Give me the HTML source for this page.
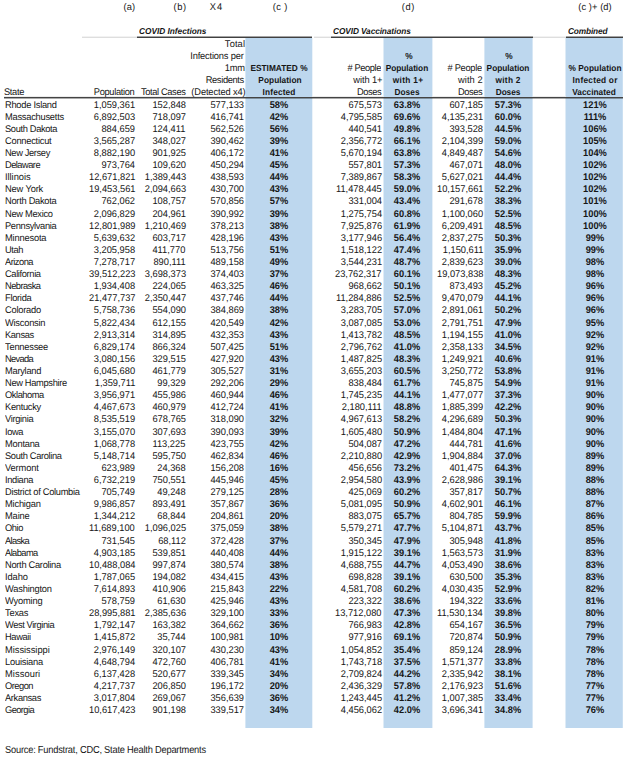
<!DOCTYPE html>
<html><head><meta charset="utf-8"><title>COVID Infections and Vaccinations by State</title>
<style>
html,body{margin:0;padding:0;background:#fff;}
body{text-rendering:geometricPrecision;width:624px;height:762px;position:relative;overflow:hidden;font-family:"Liberation Sans",Arial,sans-serif;font-size:9.7px;color:#161616;}
body>div.r{position:absolute;}
#t{position:absolute;left:0;top:0;width:624px;height:762px;}
#t>div{position:absolute;white-space:nowrap;line-height:10.0px;height:10.0px;}
.b{font-weight:bold;}
.i{font-style:italic;}
</style></head><body>
<div class="r" style="left:246px;top:38px;width:66px;height:690px;background:#bdd7ee"></div>
<div class="r" style="left:245px;top:38px;width:1px;height:690px;background:#d7e7f5"></div>
<div class="r" style="left:312px;top:38px;width:1px;height:690px;background:#ebf3fa"></div>
<div class="r" style="left:384px;top:38px;width:48px;height:690px;background:#bdd7ee"></div>
<div class="r" style="left:383px;top:38px;width:1px;height:690px;background:#deebf6"></div>
<div class="r" style="left:432px;top:38px;width:1px;height:690px;background:#e5eff8"></div>
<div class="r" style="left:485px;top:38px;width:47px;height:690px;background:#bdd7ee"></div>
<div class="r" style="left:484px;top:38px;width:1px;height:690px;background:#d7e7f5"></div>
<div class="r" style="left:532px;top:38px;width:1px;height:690px;background:#d7e7f5"></div>
<div class="r" style="left:566px;top:38px;width:56px;height:690px;background:#bdd7ee"></div>
<div class="r" style="left:565px;top:38px;width:1px;height:690px;background:#deebf6"></div>
<div class="r" style="left:622px;top:38px;width:1px;height:690px;background:#cadff1"></div>
<div class="r" style="left:137px;top:36px;width:175px;height:1px;background:#a4a4a4"></div>
<div class="r" style="left:137px;top:37px;width:175px;height:1px;background:#404040"></div>
<div class="r" style="left:331px;top:36px;width:202px;height:1px;background:#a4a4a4"></div>
<div class="r" style="left:331px;top:37px;width:202px;height:1px;background:#404040"></div>
<div class="r" style="left:566px;top:36px;width:57px;height:1px;background:#a4a4a4"></div>
<div class="r" style="left:566px;top:37px;width:57px;height:1px;background:#404040"></div>
<div class="r" style="left:82px;top:37px;width:55px;height:1px;background:#dedede"></div>
<div class="r" style="left:82px;top:36px;width:55px;height:1px;background:#f2f2f2"></div>
<div class="r" style="left:314px;top:37px;width:17px;height:1px;background:#dedede"></div>
<div class="r" style="left:314px;top:36px;width:17px;height:1px;background:#f2f2f2"></div>
<div class="r" style="left:533px;top:37px;width:33px;height:1px;background:#dedede"></div>
<div class="r" style="left:533px;top:36px;width:33px;height:1px;background:#f2f2f2"></div>
<div class="r" style="left:4px;top:96px;width:241px;height:1px;background:#ececec"></div>
<div class="r" style="left:312px;top:96px;width:71px;height:1px;background:#ececec"></div>
<div class="r" style="left:432px;top:96px;width:52px;height:1px;background:#ececec"></div>
<div class="r" style="left:533px;top:96px;width:33px;height:1px;background:#ececec"></div>
<div class="r" style="left:4px;top:97px;width:619px;height:1px;background:#444444"></div>
<div class="r" style="left:4px;top:98px;width:619px;height:1px;background:rgba(0,0,0,0.33)"></div>
<div id="t">
<div class="ra" style="right:488.24px;top:3.00px;letter-spacing:0.142px;transform:scaleX(0.9588);transform-origin:100% 0">(a)</div>
<div class="ra" style="right:437.30px;top:3.00px;letter-spacing:0.601px;transform:scaleX(0.9588);transform-origin:100% 0">(b)</div>
<div style="left:155.61px;width:120px;text-align:center;top:3.00px;letter-spacing:-0.747px;transform:scaleX(0.9588);transform-origin:50% 0"><span style="margin-right:0.747px">X 4</span></div>
<div style="left:219.67px;width:120px;text-align:center;top:3.00px;letter-spacing:0.370px;transform:scaleX(0.9588);transform-origin:50% 0"><span style="margin-right:-0.370px">(c )</span></div>
<div style="left:347.78px;width:120px;text-align:center;top:3.00px;letter-spacing:0.598px;transform:scaleX(0.9588);transform-origin:50% 0"><span style="margin-right:-0.598px">(d)</span></div>
<div style="left:534.59px;width:120px;text-align:center;top:3.00px;letter-spacing:0.087px;transform:scaleX(0.9588);transform-origin:50% 0"><span style="margin-right:-0.087px">(c )+ (d)</span></div>
<div class="b i" style="left:138.77px;top:26.00px;letter-spacing:-0.019px;font-size:8.6px;transform:scaleX(0.9651);transform-origin:0 0">COVID Infections</div>
<div class="b i" style="left:333.42px;top:26.00px;letter-spacing:-0.101px;font-size:8.6px;transform:scaleX(0.9651);transform-origin:0 0">COVID Vaccinations</div>
<div class="b i" style="left:568.12px;top:26.00px;letter-spacing:-0.151px;font-size:8.6px;transform:scaleX(0.9651);transform-origin:0 0">Combined</div>
<div class="ra" style="right:378.81px;top:39.94px;letter-spacing:0.124px;transform:scaleX(0.9588);transform-origin:100% 0">Total</div>
<div class="ra" style="right:380.20px;top:52.05px;letter-spacing:-0.186px;transform:scaleX(0.9588);transform-origin:100% 0">Infections per</div>
<div class="ra" style="right:379.23px;top:64.16px;letter-spacing:-0.223px;transform:scaleX(0.9588);transform-origin:100% 0">1mm</div>
<div class="ra" style="right:380.00px;top:76.27px;letter-spacing:-0.351px;transform:scaleX(0.9588);transform-origin:100% 0">Residents</div>
<div class="ra" style="right:378.88px;top:88.39px;letter-spacing:-0.131px;transform:scaleX(0.9588);transform-origin:100% 0">(Detected x4)</div>
<div class="b" style="left:219.22px;width:120px;text-align:center;top:63.16px;letter-spacing:0.003px;font-size:8.8px;transform:scaleX(0.9432);transform-origin:50% 0"><span style="margin-right:-0.003px">ESTIMATED %</span></div>
<div class="b" style="left:219.78px;width:120px;text-align:center;top:75.27px;letter-spacing:0.051px;font-size:8.8px;transform:scaleX(0.9432);transform-origin:50% 0"><span style="margin-right:-0.051px">Population</span></div>
<div class="b" style="left:218.50px;width:120px;text-align:center;top:87.39px;letter-spacing:0.157px;font-size:8.8px;transform:scaleX(0.9432);transform-origin:50% 0"><span style="margin-right:-0.157px">Infected</span></div>
<div class="ra" style="right:243.17px;top:64.16px;letter-spacing:-0.415px;transform:scaleX(0.9588);transform-origin:100% 0"># People</div>
<div class="ra" style="right:241.51px;top:76.27px;letter-spacing:-0.077px;transform:scaleX(0.9588);transform-origin:100% 0">with 1+</div>
<div class="ra" style="right:242.74px;top:88.39px;letter-spacing:-0.476px;transform:scaleX(0.9588);transform-origin:100% 0">Doses</div>
<div class="b" style="left:348.58px;width:120px;text-align:center;top:51.05px;font-size:8.8px;transform:scaleX(0.9432);transform-origin:50% 0">%</div>
<div class="b" style="left:347.01px;width:120px;text-align:center;top:63.16px;letter-spacing:-0.053px;font-size:8.8px;transform:scaleX(0.9432);transform-origin:50% 0"><span style="margin-right:0.053px">Population</span></div>
<div class="b" style="left:347.80px;width:120px;text-align:center;top:75.27px;letter-spacing:0.349px;font-size:8.8px;transform:scaleX(0.9432);transform-origin:50% 0"><span style="margin-right:-0.349px">with 1+</span></div>
<div class="b" style="left:347.49px;width:120px;text-align:center;top:87.39px;letter-spacing:0.066px;font-size:8.8px;transform:scaleX(0.9432);transform-origin:50% 0"><span style="margin-right:-0.066px">Doses</span></div>
<div class="ra" style="right:142.20px;top:64.16px;letter-spacing:-0.297px;transform:scaleX(0.9588);transform-origin:100% 0"># People</div>
<div class="ra" style="right:141.17px;top:76.27px;letter-spacing:0.063px;transform:scaleX(0.9588);transform-origin:100% 0">with 2</div>
<div class="ra" style="right:141.64px;top:88.39px;letter-spacing:-0.464px;transform:scaleX(0.9588);transform-origin:100% 0">Doses</div>
<div class="b" style="left:448.75px;width:120px;text-align:center;top:51.05px;font-size:8.8px;transform:scaleX(0.9432);transform-origin:50% 0">%</div>
<div class="b" style="left:448.10px;width:120px;text-align:center;top:63.16px;letter-spacing:-0.009px;font-size:8.8px;transform:scaleX(0.9432);transform-origin:50% 0"><span style="margin-right:0.009px">Population</span></div>
<div class="b" style="left:448.22px;width:120px;text-align:center;top:75.27px;letter-spacing:0.270px;font-size:8.8px;transform:scaleX(0.9432);transform-origin:50% 0"><span style="margin-right:-0.270px">with 2</span></div>
<div class="b" style="left:447.92px;width:120px;text-align:center;top:87.39px;letter-spacing:-0.091px;font-size:8.8px;transform:scaleX(0.9432);transform-origin:50% 0"><span style="margin-right:0.091px">Doses</span></div>
<div class="b" style="left:534.70px;width:120px;text-align:center;top:63.16px;letter-spacing:0.050px;font-size:8.8px;transform:scaleX(0.9432);transform-origin:50% 0"><span style="margin-right:-0.050px">% Population</span></div>
<div class="b" style="left:535.30px;width:120px;text-align:center;top:75.27px;letter-spacing:0.256px;font-size:8.8px;transform:scaleX(0.9432);transform-origin:50% 0"><span style="margin-right:-0.256px">Infected or</span></div>
<div class="b" style="left:534.38px;width:120px;text-align:center;top:87.39px;letter-spacing:0.010px;font-size:8.8px;transform:scaleX(0.9432);transform-origin:50% 0"><span style="margin-right:-0.010px">Vaccinated</span></div>
<div style="left:4.34px;top:88.39px;letter-spacing:-0.349px;transform:scaleX(0.9588);transform-origin:0 0">State</div>
<div class="ra" style="right:489.35px;top:88.39px;letter-spacing:-0.333px;transform:scaleX(0.9588);transform-origin:100% 0">Population</div>
<div class="ra" style="right:438.68px;top:88.39px;letter-spacing:-0.374px;transform:scaleX(0.9588);transform-origin:100% 0">Total Cases</div>
<div style="left:5.00px;top:100.50px;letter-spacing:-0.265px;transform:scaleX(0.9588);transform-origin:0 0">Rhode Island</div>
<div class="ra" style="right:488.80px;top:100.50px;transform:scaleX(0.9588);transform-origin:100% 0">1,059,361</div>
<div class="ra" style="right:438.40px;top:100.50px;transform:scaleX(0.9588);transform-origin:100% 0">152,848</div>
<div class="ra" style="right:379.80px;top:100.50px;transform:scaleX(0.9588);transform-origin:100% 0">577,133</div>
<div class="b" style="left:219.40px;width:120px;text-align:center;top:100.50px;transform:scaleX(0.9588);transform-origin:50% 0">58%</div>
<div class="ra" style="right:242.40px;top:100.50px;transform:scaleX(0.9588);transform-origin:100% 0">675,573</div>
<div class="b" style="left:347.40px;width:120px;text-align:center;top:100.50px;transform:scaleX(0.9588);transform-origin:50% 0">63.8%</div>
<div class="ra" style="right:140.80px;top:100.50px;transform:scaleX(0.9588);transform-origin:100% 0">607,185</div>
<div class="b" style="left:448.40px;width:120px;text-align:center;top:100.50px;transform:scaleX(0.9588);transform-origin:50% 0">57.3%</div>
<div class="b" style="left:535.00px;width:120px;text-align:center;top:100.50px;transform:scaleX(0.9588);transform-origin:50% 0">121%</div>
<div style="left:5.00px;top:112.61px;letter-spacing:-0.244px;transform:scaleX(0.9588);transform-origin:0 0">Massachusetts</div>
<div class="ra" style="right:488.80px;top:112.61px;transform:scaleX(0.9588);transform-origin:100% 0">6,892,503</div>
<div class="ra" style="right:438.40px;top:112.61px;transform:scaleX(0.9588);transform-origin:100% 0">718,097</div>
<div class="ra" style="right:379.80px;top:112.61px;transform:scaleX(0.9588);transform-origin:100% 0">416,741</div>
<div class="b" style="left:219.40px;width:120px;text-align:center;top:112.61px;transform:scaleX(0.9588);transform-origin:50% 0">42%</div>
<div class="ra" style="right:242.40px;top:112.61px;transform:scaleX(0.9588);transform-origin:100% 0">4,795,585</div>
<div class="b" style="left:347.40px;width:120px;text-align:center;top:112.61px;transform:scaleX(0.9588);transform-origin:50% 0">69.6%</div>
<div class="ra" style="right:140.80px;top:112.61px;transform:scaleX(0.9588);transform-origin:100% 0">4,135,231</div>
<div class="b" style="left:448.40px;width:120px;text-align:center;top:112.61px;transform:scaleX(0.9588);transform-origin:50% 0">60.0%</div>
<div class="b" style="left:535.00px;width:120px;text-align:center;top:112.61px;transform:scaleX(0.9588);transform-origin:50% 0">111%</div>
<div style="left:5.00px;top:124.73px;letter-spacing:-0.358px;transform:scaleX(0.9588);transform-origin:0 0">South Dakota</div>
<div class="ra" style="right:488.80px;top:124.73px;transform:scaleX(0.9588);transform-origin:100% 0">884,659</div>
<div class="ra" style="right:438.40px;top:124.73px;transform:scaleX(0.9588);transform-origin:100% 0">124,411</div>
<div class="ra" style="right:379.80px;top:124.73px;transform:scaleX(0.9588);transform-origin:100% 0">562,526</div>
<div class="b" style="left:219.40px;width:120px;text-align:center;top:124.73px;transform:scaleX(0.9588);transform-origin:50% 0">56%</div>
<div class="ra" style="right:242.40px;top:124.73px;transform:scaleX(0.9588);transform-origin:100% 0">440,541</div>
<div class="b" style="left:347.40px;width:120px;text-align:center;top:124.73px;transform:scaleX(0.9588);transform-origin:50% 0">49.8%</div>
<div class="ra" style="right:140.80px;top:124.73px;transform:scaleX(0.9588);transform-origin:100% 0">393,528</div>
<div class="b" style="left:448.40px;width:120px;text-align:center;top:124.73px;transform:scaleX(0.9588);transform-origin:50% 0">44.5%</div>
<div class="b" style="left:535.00px;width:120px;text-align:center;top:124.73px;transform:scaleX(0.9588);transform-origin:50% 0">106%</div>
<div style="left:5.00px;top:136.84px;letter-spacing:-0.251px;transform:scaleX(0.9588);transform-origin:0 0">Connecticut</div>
<div class="ra" style="right:488.80px;top:136.84px;transform:scaleX(0.9588);transform-origin:100% 0">3,565,287</div>
<div class="ra" style="right:438.40px;top:136.84px;transform:scaleX(0.9588);transform-origin:100% 0">348,027</div>
<div class="ra" style="right:379.80px;top:136.84px;transform:scaleX(0.9588);transform-origin:100% 0">390,462</div>
<div class="b" style="left:219.40px;width:120px;text-align:center;top:136.84px;transform:scaleX(0.9588);transform-origin:50% 0">39%</div>
<div class="ra" style="right:242.40px;top:136.84px;transform:scaleX(0.9588);transform-origin:100% 0">2,356,772</div>
<div class="b" style="left:347.40px;width:120px;text-align:center;top:136.84px;transform:scaleX(0.9588);transform-origin:50% 0">66.1%</div>
<div class="ra" style="right:140.80px;top:136.84px;transform:scaleX(0.9588);transform-origin:100% 0">2,104,399</div>
<div class="b" style="left:448.40px;width:120px;text-align:center;top:136.84px;transform:scaleX(0.9588);transform-origin:50% 0">59.0%</div>
<div class="b" style="left:535.00px;width:120px;text-align:center;top:136.84px;transform:scaleX(0.9588);transform-origin:50% 0">105%</div>
<div style="left:5.00px;top:148.95px;letter-spacing:-0.374px;transform:scaleX(0.9588);transform-origin:0 0">New Jersey</div>
<div class="ra" style="right:488.80px;top:148.95px;transform:scaleX(0.9588);transform-origin:100% 0">8,882,190</div>
<div class="ra" style="right:438.40px;top:148.95px;transform:scaleX(0.9588);transform-origin:100% 0">901,925</div>
<div class="ra" style="right:379.80px;top:148.95px;transform:scaleX(0.9588);transform-origin:100% 0">406,172</div>
<div class="b" style="left:219.40px;width:120px;text-align:center;top:148.95px;transform:scaleX(0.9588);transform-origin:50% 0">41%</div>
<div class="ra" style="right:242.40px;top:148.95px;transform:scaleX(0.9588);transform-origin:100% 0">5,670,194</div>
<div class="b" style="left:347.40px;width:120px;text-align:center;top:148.95px;transform:scaleX(0.9588);transform-origin:50% 0">63.8%</div>
<div class="ra" style="right:140.80px;top:148.95px;transform:scaleX(0.9588);transform-origin:100% 0">4,849,487</div>
<div class="b" style="left:448.40px;width:120px;text-align:center;top:148.95px;transform:scaleX(0.9588);transform-origin:50% 0">54.6%</div>
<div class="b" style="left:535.00px;width:120px;text-align:center;top:148.95px;transform:scaleX(0.9588);transform-origin:50% 0">104%</div>
<div style="left:5.00px;top:161.06px;letter-spacing:-0.546px;transform:scaleX(0.9588);transform-origin:0 0">Delaware</div>
<div class="ra" style="right:488.80px;top:161.06px;transform:scaleX(0.9588);transform-origin:100% 0">973,764</div>
<div class="ra" style="right:438.40px;top:161.06px;transform:scaleX(0.9588);transform-origin:100% 0">109,620</div>
<div class="ra" style="right:379.80px;top:161.06px;transform:scaleX(0.9588);transform-origin:100% 0">450,294</div>
<div class="b" style="left:219.40px;width:120px;text-align:center;top:161.06px;transform:scaleX(0.9588);transform-origin:50% 0">45%</div>
<div class="ra" style="right:242.40px;top:161.06px;transform:scaleX(0.9588);transform-origin:100% 0">557,801</div>
<div class="b" style="left:347.40px;width:120px;text-align:center;top:161.06px;transform:scaleX(0.9588);transform-origin:50% 0">57.3%</div>
<div class="ra" style="right:140.80px;top:161.06px;transform:scaleX(0.9588);transform-origin:100% 0">467,071</div>
<div class="b" style="left:448.40px;width:120px;text-align:center;top:161.06px;transform:scaleX(0.9588);transform-origin:50% 0">48.0%</div>
<div class="b" style="left:535.00px;width:120px;text-align:center;top:161.06px;transform:scaleX(0.9588);transform-origin:50% 0">102%</div>
<div style="left:5.00px;top:173.18px;letter-spacing:-0.035px;transform:scaleX(0.9588);transform-origin:0 0">Illinois</div>
<div class="ra" style="right:488.80px;top:173.18px;transform:scaleX(0.9588);transform-origin:100% 0">12,671,821</div>
<div class="ra" style="right:438.40px;top:173.18px;transform:scaleX(0.9588);transform-origin:100% 0">1,389,443</div>
<div class="ra" style="right:379.80px;top:173.18px;transform:scaleX(0.9588);transform-origin:100% 0">438,593</div>
<div class="b" style="left:219.40px;width:120px;text-align:center;top:173.18px;transform:scaleX(0.9588);transform-origin:50% 0">44%</div>
<div class="ra" style="right:242.40px;top:173.18px;transform:scaleX(0.9588);transform-origin:100% 0">7,389,867</div>
<div class="b" style="left:347.40px;width:120px;text-align:center;top:173.18px;transform:scaleX(0.9588);transform-origin:50% 0">58.3%</div>
<div class="ra" style="right:140.80px;top:173.18px;transform:scaleX(0.9588);transform-origin:100% 0">5,627,021</div>
<div class="b" style="left:448.40px;width:120px;text-align:center;top:173.18px;transform:scaleX(0.9588);transform-origin:50% 0">44.4%</div>
<div class="b" style="left:535.00px;width:120px;text-align:center;top:173.18px;transform:scaleX(0.9588);transform-origin:50% 0">102%</div>
<div style="left:5.00px;top:185.29px;letter-spacing:-0.148px;transform:scaleX(0.9588);transform-origin:0 0">New York</div>
<div class="ra" style="right:488.80px;top:185.29px;transform:scaleX(0.9588);transform-origin:100% 0">19,453,561</div>
<div class="ra" style="right:438.40px;top:185.29px;transform:scaleX(0.9588);transform-origin:100% 0">2,094,663</div>
<div class="ra" style="right:379.80px;top:185.29px;transform:scaleX(0.9588);transform-origin:100% 0">430,700</div>
<div class="b" style="left:219.40px;width:120px;text-align:center;top:185.29px;transform:scaleX(0.9588);transform-origin:50% 0">43%</div>
<div class="ra" style="right:242.40px;top:185.29px;transform:scaleX(0.9588);transform-origin:100% 0">11,478,445</div>
<div class="b" style="left:347.40px;width:120px;text-align:center;top:185.29px;transform:scaleX(0.9588);transform-origin:50% 0">59.0%</div>
<div class="ra" style="right:140.80px;top:185.29px;transform:scaleX(0.9588);transform-origin:100% 0">10,157,661</div>
<div class="b" style="left:448.40px;width:120px;text-align:center;top:185.29px;transform:scaleX(0.9588);transform-origin:50% 0">52.2%</div>
<div class="b" style="left:535.00px;width:120px;text-align:center;top:185.29px;transform:scaleX(0.9588);transform-origin:50% 0">102%</div>
<div style="left:5.00px;top:197.40px;letter-spacing:-0.290px;transform:scaleX(0.9588);transform-origin:0 0">North Dakota</div>
<div class="ra" style="right:488.80px;top:197.40px;transform:scaleX(0.9588);transform-origin:100% 0">762,062</div>
<div class="ra" style="right:438.40px;top:197.40px;transform:scaleX(0.9588);transform-origin:100% 0">108,757</div>
<div class="ra" style="right:379.80px;top:197.40px;transform:scaleX(0.9588);transform-origin:100% 0">570,856</div>
<div class="b" style="left:219.40px;width:120px;text-align:center;top:197.40px;transform:scaleX(0.9588);transform-origin:50% 0">57%</div>
<div class="ra" style="right:242.40px;top:197.40px;transform:scaleX(0.9588);transform-origin:100% 0">331,004</div>
<div class="b" style="left:347.40px;width:120px;text-align:center;top:197.40px;transform:scaleX(0.9588);transform-origin:50% 0">43.4%</div>
<div class="ra" style="right:140.80px;top:197.40px;transform:scaleX(0.9588);transform-origin:100% 0">291,678</div>
<div class="b" style="left:448.40px;width:120px;text-align:center;top:197.40px;transform:scaleX(0.9588);transform-origin:50% 0">38.3%</div>
<div class="b" style="left:535.00px;width:120px;text-align:center;top:197.40px;transform:scaleX(0.9588);transform-origin:50% 0">101%</div>
<div style="left:5.00px;top:209.52px;letter-spacing:-0.307px;transform:scaleX(0.9588);transform-origin:0 0">New Mexico</div>
<div class="ra" style="right:488.80px;top:209.52px;transform:scaleX(0.9588);transform-origin:100% 0">2,096,829</div>
<div class="ra" style="right:438.40px;top:209.52px;transform:scaleX(0.9588);transform-origin:100% 0">204,961</div>
<div class="ra" style="right:379.80px;top:209.52px;transform:scaleX(0.9588);transform-origin:100% 0">390,992</div>
<div class="b" style="left:219.40px;width:120px;text-align:center;top:209.52px;transform:scaleX(0.9588);transform-origin:50% 0">39%</div>
<div class="ra" style="right:242.40px;top:209.52px;transform:scaleX(0.9588);transform-origin:100% 0">1,275,754</div>
<div class="b" style="left:347.40px;width:120px;text-align:center;top:209.52px;transform:scaleX(0.9588);transform-origin:50% 0">60.8%</div>
<div class="ra" style="right:140.80px;top:209.52px;transform:scaleX(0.9588);transform-origin:100% 0">1,100,060</div>
<div class="b" style="left:448.40px;width:120px;text-align:center;top:209.52px;transform:scaleX(0.9588);transform-origin:50% 0">52.5%</div>
<div class="b" style="left:535.00px;width:120px;text-align:center;top:209.52px;transform:scaleX(0.9588);transform-origin:50% 0">100%</div>
<div style="left:5.00px;top:221.63px;letter-spacing:-0.335px;transform:scaleX(0.9588);transform-origin:0 0">Pennsylvania</div>
<div class="ra" style="right:488.80px;top:221.63px;transform:scaleX(0.9588);transform-origin:100% 0">12,801,989</div>
<div class="ra" style="right:438.40px;top:221.63px;transform:scaleX(0.9588);transform-origin:100% 0">1,210,469</div>
<div class="ra" style="right:379.80px;top:221.63px;transform:scaleX(0.9588);transform-origin:100% 0">378,213</div>
<div class="b" style="left:219.40px;width:120px;text-align:center;top:221.63px;transform:scaleX(0.9588);transform-origin:50% 0">38%</div>
<div class="ra" style="right:242.40px;top:221.63px;transform:scaleX(0.9588);transform-origin:100% 0">7,925,876</div>
<div class="b" style="left:347.40px;width:120px;text-align:center;top:221.63px;transform:scaleX(0.9588);transform-origin:50% 0">61.9%</div>
<div class="ra" style="right:140.80px;top:221.63px;transform:scaleX(0.9588);transform-origin:100% 0">6,209,491</div>
<div class="b" style="left:448.40px;width:120px;text-align:center;top:221.63px;transform:scaleX(0.9588);transform-origin:50% 0">48.5%</div>
<div class="b" style="left:535.00px;width:120px;text-align:center;top:221.63px;transform:scaleX(0.9588);transform-origin:50% 0">100%</div>
<div style="left:5.00px;top:233.74px;letter-spacing:-0.181px;transform:scaleX(0.9588);transform-origin:0 0">Minnesota</div>
<div class="ra" style="right:488.80px;top:233.74px;transform:scaleX(0.9588);transform-origin:100% 0">5,639,632</div>
<div class="ra" style="right:438.40px;top:233.74px;transform:scaleX(0.9588);transform-origin:100% 0">603,717</div>
<div class="ra" style="right:379.80px;top:233.74px;transform:scaleX(0.9588);transform-origin:100% 0">428,196</div>
<div class="b" style="left:219.40px;width:120px;text-align:center;top:233.74px;transform:scaleX(0.9588);transform-origin:50% 0">43%</div>
<div class="ra" style="right:242.40px;top:233.74px;transform:scaleX(0.9588);transform-origin:100% 0">3,177,946</div>
<div class="b" style="left:347.40px;width:120px;text-align:center;top:233.74px;transform:scaleX(0.9588);transform-origin:50% 0">56.4%</div>
<div class="ra" style="right:140.80px;top:233.74px;transform:scaleX(0.9588);transform-origin:100% 0">2,837,275</div>
<div class="b" style="left:448.40px;width:120px;text-align:center;top:233.74px;transform:scaleX(0.9588);transform-origin:50% 0">50.3%</div>
<div class="b" style="left:535.00px;width:120px;text-align:center;top:233.74px;transform:scaleX(0.9588);transform-origin:50% 0">99%</div>
<div style="left:5.00px;top:245.86px;letter-spacing:-0.383px;transform:scaleX(0.9588);transform-origin:0 0">Utah</div>
<div class="ra" style="right:488.80px;top:245.86px;transform:scaleX(0.9588);transform-origin:100% 0">3,205,958</div>
<div class="ra" style="right:438.40px;top:245.86px;transform:scaleX(0.9588);transform-origin:100% 0">411,770</div>
<div class="ra" style="right:379.80px;top:245.86px;transform:scaleX(0.9588);transform-origin:100% 0">513,756</div>
<div class="b" style="left:219.40px;width:120px;text-align:center;top:245.86px;transform:scaleX(0.9588);transform-origin:50% 0">51%</div>
<div class="ra" style="right:242.40px;top:245.86px;transform:scaleX(0.9588);transform-origin:100% 0">1,518,122</div>
<div class="b" style="left:347.40px;width:120px;text-align:center;top:245.86px;transform:scaleX(0.9588);transform-origin:50% 0">47.4%</div>
<div class="ra" style="right:140.80px;top:245.86px;transform:scaleX(0.9588);transform-origin:100% 0">1,150,611</div>
<div class="b" style="left:448.40px;width:120px;text-align:center;top:245.86px;transform:scaleX(0.9588);transform-origin:50% 0">35.9%</div>
<div class="b" style="left:535.00px;width:120px;text-align:center;top:245.86px;transform:scaleX(0.9588);transform-origin:50% 0">99%</div>
<div style="left:5.00px;top:257.97px;letter-spacing:-0.519px;transform:scaleX(0.9588);transform-origin:0 0">Arizona</div>
<div class="ra" style="right:488.80px;top:257.97px;transform:scaleX(0.9588);transform-origin:100% 0">7,278,717</div>
<div class="ra" style="right:438.40px;top:257.97px;transform:scaleX(0.9588);transform-origin:100% 0">890,111</div>
<div class="ra" style="right:379.80px;top:257.97px;transform:scaleX(0.9588);transform-origin:100% 0">489,158</div>
<div class="b" style="left:219.40px;width:120px;text-align:center;top:257.97px;transform:scaleX(0.9588);transform-origin:50% 0">49%</div>
<div class="ra" style="right:242.40px;top:257.97px;transform:scaleX(0.9588);transform-origin:100% 0">3,544,231</div>
<div class="b" style="left:347.40px;width:120px;text-align:center;top:257.97px;transform:scaleX(0.9588);transform-origin:50% 0">48.7%</div>
<div class="ra" style="right:140.80px;top:257.97px;transform:scaleX(0.9588);transform-origin:100% 0">2,839,623</div>
<div class="b" style="left:448.40px;width:120px;text-align:center;top:257.97px;transform:scaleX(0.9588);transform-origin:50% 0">39.0%</div>
<div class="b" style="left:535.00px;width:120px;text-align:center;top:257.97px;transform:scaleX(0.9588);transform-origin:50% 0">98%</div>
<div style="left:5.00px;top:270.08px;letter-spacing:-0.374px;transform:scaleX(0.9588);transform-origin:0 0">California</div>
<div class="ra" style="right:488.80px;top:270.08px;transform:scaleX(0.9588);transform-origin:100% 0">39,512,223</div>
<div class="ra" style="right:438.40px;top:270.08px;transform:scaleX(0.9588);transform-origin:100% 0">3,698,373</div>
<div class="ra" style="right:379.80px;top:270.08px;transform:scaleX(0.9588);transform-origin:100% 0">374,403</div>
<div class="b" style="left:219.40px;width:120px;text-align:center;top:270.08px;transform:scaleX(0.9588);transform-origin:50% 0">37%</div>
<div class="ra" style="right:242.40px;top:270.08px;transform:scaleX(0.9588);transform-origin:100% 0">23,762,317</div>
<div class="b" style="left:347.40px;width:120px;text-align:center;top:270.08px;transform:scaleX(0.9588);transform-origin:50% 0">60.1%</div>
<div class="ra" style="right:140.80px;top:270.08px;transform:scaleX(0.9588);transform-origin:100% 0">19,073,838</div>
<div class="b" style="left:448.40px;width:120px;text-align:center;top:270.08px;transform:scaleX(0.9588);transform-origin:50% 0">48.3%</div>
<div class="b" style="left:535.00px;width:120px;text-align:center;top:270.08px;transform:scaleX(0.9588);transform-origin:50% 0">98%</div>
<div style="left:5.00px;top:282.19px;letter-spacing:-0.560px;transform:scaleX(0.9588);transform-origin:0 0">Nebraska</div>
<div class="ra" style="right:488.80px;top:282.19px;transform:scaleX(0.9588);transform-origin:100% 0">1,934,408</div>
<div class="ra" style="right:438.40px;top:282.19px;transform:scaleX(0.9588);transform-origin:100% 0">224,065</div>
<div class="ra" style="right:379.80px;top:282.19px;transform:scaleX(0.9588);transform-origin:100% 0">463,325</div>
<div class="b" style="left:219.40px;width:120px;text-align:center;top:282.19px;transform:scaleX(0.9588);transform-origin:50% 0">46%</div>
<div class="ra" style="right:242.40px;top:282.19px;transform:scaleX(0.9588);transform-origin:100% 0">968,662</div>
<div class="b" style="left:347.40px;width:120px;text-align:center;top:282.19px;transform:scaleX(0.9588);transform-origin:50% 0">50.1%</div>
<div class="ra" style="right:140.80px;top:282.19px;transform:scaleX(0.9588);transform-origin:100% 0">873,493</div>
<div class="b" style="left:448.40px;width:120px;text-align:center;top:282.19px;transform:scaleX(0.9588);transform-origin:50% 0">45.2%</div>
<div class="b" style="left:535.00px;width:120px;text-align:center;top:282.19px;transform:scaleX(0.9588);transform-origin:50% 0">96%</div>
<div style="left:5.00px;top:294.31px;letter-spacing:-0.294px;transform:scaleX(0.9588);transform-origin:0 0">Florida</div>
<div class="ra" style="right:488.80px;top:294.31px;transform:scaleX(0.9588);transform-origin:100% 0">21,477,737</div>
<div class="ra" style="right:438.40px;top:294.31px;transform:scaleX(0.9588);transform-origin:100% 0">2,350,447</div>
<div class="ra" style="right:379.80px;top:294.31px;transform:scaleX(0.9588);transform-origin:100% 0">437,746</div>
<div class="b" style="left:219.40px;width:120px;text-align:center;top:294.31px;transform:scaleX(0.9588);transform-origin:50% 0">44%</div>
<div class="ra" style="right:242.40px;top:294.31px;transform:scaleX(0.9588);transform-origin:100% 0">11,284,886</div>
<div class="b" style="left:347.40px;width:120px;text-align:center;top:294.31px;transform:scaleX(0.9588);transform-origin:50% 0">52.5%</div>
<div class="ra" style="right:140.80px;top:294.31px;transform:scaleX(0.9588);transform-origin:100% 0">9,470,079</div>
<div class="b" style="left:448.40px;width:120px;text-align:center;top:294.31px;transform:scaleX(0.9588);transform-origin:50% 0">44.1%</div>
<div class="b" style="left:535.00px;width:120px;text-align:center;top:294.31px;transform:scaleX(0.9588);transform-origin:50% 0">96%</div>
<div style="left:5.00px;top:306.42px;letter-spacing:-0.228px;transform:scaleX(0.9588);transform-origin:0 0">Colorado</div>
<div class="ra" style="right:488.80px;top:306.42px;transform:scaleX(0.9588);transform-origin:100% 0">5,758,736</div>
<div class="ra" style="right:438.40px;top:306.42px;transform:scaleX(0.9588);transform-origin:100% 0">554,090</div>
<div class="ra" style="right:379.80px;top:306.42px;transform:scaleX(0.9588);transform-origin:100% 0">384,869</div>
<div class="b" style="left:219.40px;width:120px;text-align:center;top:306.42px;transform:scaleX(0.9588);transform-origin:50% 0">38%</div>
<div class="ra" style="right:242.40px;top:306.42px;transform:scaleX(0.9588);transform-origin:100% 0">3,283,705</div>
<div class="b" style="left:347.40px;width:120px;text-align:center;top:306.42px;transform:scaleX(0.9588);transform-origin:50% 0">57.0%</div>
<div class="ra" style="right:140.80px;top:306.42px;transform:scaleX(0.9588);transform-origin:100% 0">2,891,061</div>
<div class="b" style="left:448.40px;width:120px;text-align:center;top:306.42px;transform:scaleX(0.9588);transform-origin:50% 0">50.2%</div>
<div class="b" style="left:535.00px;width:120px;text-align:center;top:306.42px;transform:scaleX(0.9588);transform-origin:50% 0">96%</div>
<div style="left:5.00px;top:318.53px;letter-spacing:-0.239px;transform:scaleX(0.9588);transform-origin:0 0">Wisconsin</div>
<div class="ra" style="right:488.80px;top:318.53px;transform:scaleX(0.9588);transform-origin:100% 0">5,822,434</div>
<div class="ra" style="right:438.40px;top:318.53px;transform:scaleX(0.9588);transform-origin:100% 0">612,155</div>
<div class="ra" style="right:379.80px;top:318.53px;transform:scaleX(0.9588);transform-origin:100% 0">420,549</div>
<div class="b" style="left:219.40px;width:120px;text-align:center;top:318.53px;transform:scaleX(0.9588);transform-origin:50% 0">42%</div>
<div class="ra" style="right:242.40px;top:318.53px;transform:scaleX(0.9588);transform-origin:100% 0">3,087,085</div>
<div class="b" style="left:347.40px;width:120px;text-align:center;top:318.53px;transform:scaleX(0.9588);transform-origin:50% 0">53.0%</div>
<div class="ra" style="right:140.80px;top:318.53px;transform:scaleX(0.9588);transform-origin:100% 0">2,791,751</div>
<div class="b" style="left:448.40px;width:120px;text-align:center;top:318.53px;transform:scaleX(0.9588);transform-origin:50% 0">47.9%</div>
<div class="b" style="left:535.00px;width:120px;text-align:center;top:318.53px;transform:scaleX(0.9588);transform-origin:50% 0">95%</div>
<div style="left:5.00px;top:330.65px;letter-spacing:-0.399px;transform:scaleX(0.9588);transform-origin:0 0">Kansas</div>
<div class="ra" style="right:488.80px;top:330.65px;transform:scaleX(0.9588);transform-origin:100% 0">2,913,314</div>
<div class="ra" style="right:438.40px;top:330.65px;transform:scaleX(0.9588);transform-origin:100% 0">314,895</div>
<div class="ra" style="right:379.80px;top:330.65px;transform:scaleX(0.9588);transform-origin:100% 0">432,353</div>
<div class="b" style="left:219.40px;width:120px;text-align:center;top:330.65px;transform:scaleX(0.9588);transform-origin:50% 0">43%</div>
<div class="ra" style="right:242.40px;top:330.65px;transform:scaleX(0.9588);transform-origin:100% 0">1,413,782</div>
<div class="b" style="left:347.40px;width:120px;text-align:center;top:330.65px;transform:scaleX(0.9588);transform-origin:50% 0">48.5%</div>
<div class="ra" style="right:140.80px;top:330.65px;transform:scaleX(0.9588);transform-origin:100% 0">1,194,155</div>
<div class="b" style="left:448.40px;width:120px;text-align:center;top:330.65px;transform:scaleX(0.9588);transform-origin:50% 0">41.0%</div>
<div class="b" style="left:535.00px;width:120px;text-align:center;top:330.65px;transform:scaleX(0.9588);transform-origin:50% 0">92%</div>
<div style="left:5.00px;top:342.76px;letter-spacing:-0.220px;transform:scaleX(0.9588);transform-origin:0 0">Tennessee</div>
<div class="ra" style="right:488.80px;top:342.76px;transform:scaleX(0.9588);transform-origin:100% 0">6,829,174</div>
<div class="ra" style="right:438.40px;top:342.76px;transform:scaleX(0.9588);transform-origin:100% 0">866,324</div>
<div class="ra" style="right:379.80px;top:342.76px;transform:scaleX(0.9588);transform-origin:100% 0">507,425</div>
<div class="b" style="left:219.40px;width:120px;text-align:center;top:342.76px;transform:scaleX(0.9588);transform-origin:50% 0">51%</div>
<div class="ra" style="right:242.40px;top:342.76px;transform:scaleX(0.9588);transform-origin:100% 0">2,796,762</div>
<div class="b" style="left:347.40px;width:120px;text-align:center;top:342.76px;transform:scaleX(0.9588);transform-origin:50% 0">41.0%</div>
<div class="ra" style="right:140.80px;top:342.76px;transform:scaleX(0.9588);transform-origin:100% 0">2,358,133</div>
<div class="b" style="left:448.40px;width:120px;text-align:center;top:342.76px;transform:scaleX(0.9588);transform-origin:50% 0">34.5%</div>
<div class="b" style="left:535.00px;width:120px;text-align:center;top:342.76px;transform:scaleX(0.9588);transform-origin:50% 0">92%</div>
<div style="left:5.00px;top:354.87px;letter-spacing:-0.707px;transform:scaleX(0.9588);transform-origin:0 0">Nevada</div>
<div class="ra" style="right:488.80px;top:354.87px;transform:scaleX(0.9588);transform-origin:100% 0">3,080,156</div>
<div class="ra" style="right:438.40px;top:354.87px;transform:scaleX(0.9588);transform-origin:100% 0">329,515</div>
<div class="ra" style="right:379.80px;top:354.87px;transform:scaleX(0.9588);transform-origin:100% 0">427,920</div>
<div class="b" style="left:219.40px;width:120px;text-align:center;top:354.87px;transform:scaleX(0.9588);transform-origin:50% 0">43%</div>
<div class="ra" style="right:242.40px;top:354.87px;transform:scaleX(0.9588);transform-origin:100% 0">1,487,825</div>
<div class="b" style="left:347.40px;width:120px;text-align:center;top:354.87px;transform:scaleX(0.9588);transform-origin:50% 0">48.3%</div>
<div class="ra" style="right:140.80px;top:354.87px;transform:scaleX(0.9588);transform-origin:100% 0">1,249,921</div>
<div class="b" style="left:448.40px;width:120px;text-align:center;top:354.87px;transform:scaleX(0.9588);transform-origin:50% 0">40.6%</div>
<div class="b" style="left:535.00px;width:120px;text-align:center;top:354.87px;transform:scaleX(0.9588);transform-origin:50% 0">91%</div>
<div style="left:5.00px;top:366.99px;letter-spacing:-0.269px;transform:scaleX(0.9588);transform-origin:0 0">Maryland</div>
<div class="ra" style="right:488.80px;top:366.99px;transform:scaleX(0.9588);transform-origin:100% 0">6,045,680</div>
<div class="ra" style="right:438.40px;top:366.99px;transform:scaleX(0.9588);transform-origin:100% 0">461,779</div>
<div class="ra" style="right:379.80px;top:366.99px;transform:scaleX(0.9588);transform-origin:100% 0">305,527</div>
<div class="b" style="left:219.40px;width:120px;text-align:center;top:366.99px;transform:scaleX(0.9588);transform-origin:50% 0">31%</div>
<div class="ra" style="right:242.40px;top:366.99px;transform:scaleX(0.9588);transform-origin:100% 0">3,655,203</div>
<div class="b" style="left:347.40px;width:120px;text-align:center;top:366.99px;transform:scaleX(0.9588);transform-origin:50% 0">60.5%</div>
<div class="ra" style="right:140.80px;top:366.99px;transform:scaleX(0.9588);transform-origin:100% 0">3,250,772</div>
<div class="b" style="left:448.40px;width:120px;text-align:center;top:366.99px;transform:scaleX(0.9588);transform-origin:50% 0">53.8%</div>
<div class="b" style="left:535.00px;width:120px;text-align:center;top:366.99px;transform:scaleX(0.9588);transform-origin:50% 0">91%</div>
<div style="left:5.00px;top:379.10px;letter-spacing:-0.342px;transform:scaleX(0.9588);transform-origin:0 0">New Hampshire</div>
<div class="ra" style="right:488.80px;top:379.10px;transform:scaleX(0.9588);transform-origin:100% 0">1,359,711</div>
<div class="ra" style="right:438.40px;top:379.10px;transform:scaleX(0.9588);transform-origin:100% 0">99,329</div>
<div class="ra" style="right:379.80px;top:379.10px;transform:scaleX(0.9588);transform-origin:100% 0">292,206</div>
<div class="b" style="left:219.40px;width:120px;text-align:center;top:379.10px;transform:scaleX(0.9588);transform-origin:50% 0">29%</div>
<div class="ra" style="right:242.40px;top:379.10px;transform:scaleX(0.9588);transform-origin:100% 0">838,484</div>
<div class="b" style="left:347.40px;width:120px;text-align:center;top:379.10px;transform:scaleX(0.9588);transform-origin:50% 0">61.7%</div>
<div class="ra" style="right:140.80px;top:379.10px;transform:scaleX(0.9588);transform-origin:100% 0">745,875</div>
<div class="b" style="left:448.40px;width:120px;text-align:center;top:379.10px;transform:scaleX(0.9588);transform-origin:50% 0">54.9%</div>
<div class="b" style="left:535.00px;width:120px;text-align:center;top:379.10px;transform:scaleX(0.9588);transform-origin:50% 0">91%</div>
<div style="left:5.00px;top:391.21px;letter-spacing:-0.454px;transform:scaleX(0.9588);transform-origin:0 0">Oklahoma</div>
<div class="ra" style="right:488.80px;top:391.21px;transform:scaleX(0.9588);transform-origin:100% 0">3,956,971</div>
<div class="ra" style="right:438.40px;top:391.21px;transform:scaleX(0.9588);transform-origin:100% 0">455,986</div>
<div class="ra" style="right:379.80px;top:391.21px;transform:scaleX(0.9588);transform-origin:100% 0">460,944</div>
<div class="b" style="left:219.40px;width:120px;text-align:center;top:391.21px;transform:scaleX(0.9588);transform-origin:50% 0">46%</div>
<div class="ra" style="right:242.40px;top:391.21px;transform:scaleX(0.9588);transform-origin:100% 0">1,745,235</div>
<div class="b" style="left:347.40px;width:120px;text-align:center;top:391.21px;transform:scaleX(0.9588);transform-origin:50% 0">44.1%</div>
<div class="ra" style="right:140.80px;top:391.21px;transform:scaleX(0.9588);transform-origin:100% 0">1,477,077</div>
<div class="b" style="left:448.40px;width:120px;text-align:center;top:391.21px;transform:scaleX(0.9588);transform-origin:50% 0">37.3%</div>
<div class="b" style="left:535.00px;width:120px;text-align:center;top:391.21px;transform:scaleX(0.9588);transform-origin:50% 0">90%</div>
<div style="left:5.00px;top:403.32px;letter-spacing:-0.300px;transform:scaleX(0.9588);transform-origin:0 0">Kentucky</div>
<div class="ra" style="right:488.80px;top:403.32px;transform:scaleX(0.9588);transform-origin:100% 0">4,467,673</div>
<div class="ra" style="right:438.40px;top:403.32px;transform:scaleX(0.9588);transform-origin:100% 0">460,979</div>
<div class="ra" style="right:379.80px;top:403.32px;transform:scaleX(0.9588);transform-origin:100% 0">412,724</div>
<div class="b" style="left:219.40px;width:120px;text-align:center;top:403.32px;transform:scaleX(0.9588);transform-origin:50% 0">41%</div>
<div class="ra" style="right:242.40px;top:403.32px;transform:scaleX(0.9588);transform-origin:100% 0">2,180,111</div>
<div class="b" style="left:347.40px;width:120px;text-align:center;top:403.32px;transform:scaleX(0.9588);transform-origin:50% 0">48.8%</div>
<div class="ra" style="right:140.80px;top:403.32px;transform:scaleX(0.9588);transform-origin:100% 0">1,885,399</div>
<div class="b" style="left:448.40px;width:120px;text-align:center;top:403.32px;transform:scaleX(0.9588);transform-origin:50% 0">42.2%</div>
<div class="b" style="left:535.00px;width:120px;text-align:center;top:403.32px;transform:scaleX(0.9588);transform-origin:50% 0">90%</div>
<div style="left:5.00px;top:415.44px;letter-spacing:-0.335px;transform:scaleX(0.9588);transform-origin:0 0">Virginia</div>
<div class="ra" style="right:488.80px;top:415.44px;transform:scaleX(0.9588);transform-origin:100% 0">8,535,519</div>
<div class="ra" style="right:438.40px;top:415.44px;transform:scaleX(0.9588);transform-origin:100% 0">678,765</div>
<div class="ra" style="right:379.80px;top:415.44px;transform:scaleX(0.9588);transform-origin:100% 0">318,090</div>
<div class="b" style="left:219.40px;width:120px;text-align:center;top:415.44px;transform:scaleX(0.9588);transform-origin:50% 0">32%</div>
<div class="ra" style="right:242.40px;top:415.44px;transform:scaleX(0.9588);transform-origin:100% 0">4,967,613</div>
<div class="b" style="left:347.40px;width:120px;text-align:center;top:415.44px;transform:scaleX(0.9588);transform-origin:50% 0">58.2%</div>
<div class="ra" style="right:140.80px;top:415.44px;transform:scaleX(0.9588);transform-origin:100% 0">4,296,689</div>
<div class="b" style="left:448.40px;width:120px;text-align:center;top:415.44px;transform:scaleX(0.9588);transform-origin:50% 0">50.3%</div>
<div class="b" style="left:535.00px;width:120px;text-align:center;top:415.44px;transform:scaleX(0.9588);transform-origin:50% 0">90%</div>
<div style="left:5.00px;top:427.55px;letter-spacing:-0.385px;transform:scaleX(0.9588);transform-origin:0 0">Iowa</div>
<div class="ra" style="right:488.80px;top:427.55px;transform:scaleX(0.9588);transform-origin:100% 0">3,155,070</div>
<div class="ra" style="right:438.40px;top:427.55px;transform:scaleX(0.9588);transform-origin:100% 0">307,693</div>
<div class="ra" style="right:379.80px;top:427.55px;transform:scaleX(0.9588);transform-origin:100% 0">390,093</div>
<div class="b" style="left:219.40px;width:120px;text-align:center;top:427.55px;transform:scaleX(0.9588);transform-origin:50% 0">39%</div>
<div class="ra" style="right:242.40px;top:427.55px;transform:scaleX(0.9588);transform-origin:100% 0">1,605,480</div>
<div class="b" style="left:347.40px;width:120px;text-align:center;top:427.55px;transform:scaleX(0.9588);transform-origin:50% 0">50.9%</div>
<div class="ra" style="right:140.80px;top:427.55px;transform:scaleX(0.9588);transform-origin:100% 0">1,484,804</div>
<div class="b" style="left:448.40px;width:120px;text-align:center;top:427.55px;transform:scaleX(0.9588);transform-origin:50% 0">47.1%</div>
<div class="b" style="left:535.00px;width:120px;text-align:center;top:427.55px;transform:scaleX(0.9588);transform-origin:50% 0">90%</div>
<div style="left:5.00px;top:439.66px;letter-spacing:-0.240px;transform:scaleX(0.9588);transform-origin:0 0">Montana</div>
<div class="ra" style="right:488.80px;top:439.66px;transform:scaleX(0.9588);transform-origin:100% 0">1,068,778</div>
<div class="ra" style="right:438.40px;top:439.66px;transform:scaleX(0.9588);transform-origin:100% 0">113,225</div>
<div class="ra" style="right:379.80px;top:439.66px;transform:scaleX(0.9588);transform-origin:100% 0">423,755</div>
<div class="b" style="left:219.40px;width:120px;text-align:center;top:439.66px;transform:scaleX(0.9588);transform-origin:50% 0">42%</div>
<div class="ra" style="right:242.40px;top:439.66px;transform:scaleX(0.9588);transform-origin:100% 0">504,087</div>
<div class="b" style="left:347.40px;width:120px;text-align:center;top:439.66px;transform:scaleX(0.9588);transform-origin:50% 0">47.2%</div>
<div class="ra" style="right:140.80px;top:439.66px;transform:scaleX(0.9588);transform-origin:100% 0">444,781</div>
<div class="b" style="left:448.40px;width:120px;text-align:center;top:439.66px;transform:scaleX(0.9588);transform-origin:50% 0">41.6%</div>
<div class="b" style="left:535.00px;width:120px;text-align:center;top:439.66px;transform:scaleX(0.9588);transform-origin:50% 0">90%</div>
<div style="left:5.00px;top:451.78px;letter-spacing:-0.360px;transform:scaleX(0.9588);transform-origin:0 0">South Carolina</div>
<div class="ra" style="right:488.80px;top:451.78px;transform:scaleX(0.9588);transform-origin:100% 0">5,148,714</div>
<div class="ra" style="right:438.40px;top:451.78px;transform:scaleX(0.9588);transform-origin:100% 0">595,750</div>
<div class="ra" style="right:379.80px;top:451.78px;transform:scaleX(0.9588);transform-origin:100% 0">462,834</div>
<div class="b" style="left:219.40px;width:120px;text-align:center;top:451.78px;transform:scaleX(0.9588);transform-origin:50% 0">46%</div>
<div class="ra" style="right:242.40px;top:451.78px;transform:scaleX(0.9588);transform-origin:100% 0">2,210,880</div>
<div class="b" style="left:347.40px;width:120px;text-align:center;top:451.78px;transform:scaleX(0.9588);transform-origin:50% 0">42.9%</div>
<div class="ra" style="right:140.80px;top:451.78px;transform:scaleX(0.9588);transform-origin:100% 0">1,904,884</div>
<div class="b" style="left:448.40px;width:120px;text-align:center;top:451.78px;transform:scaleX(0.9588);transform-origin:50% 0">37.0%</div>
<div class="b" style="left:535.00px;width:120px;text-align:center;top:451.78px;transform:scaleX(0.9588);transform-origin:50% 0">89%</div>
<div style="left:5.00px;top:463.89px;letter-spacing:-0.134px;transform:scaleX(0.9588);transform-origin:0 0">Vermont</div>
<div class="ra" style="right:488.80px;top:463.89px;transform:scaleX(0.9588);transform-origin:100% 0">623,989</div>
<div class="ra" style="right:438.40px;top:463.89px;transform:scaleX(0.9588);transform-origin:100% 0">24,368</div>
<div class="ra" style="right:379.80px;top:463.89px;transform:scaleX(0.9588);transform-origin:100% 0">156,208</div>
<div class="b" style="left:219.40px;width:120px;text-align:center;top:463.89px;transform:scaleX(0.9588);transform-origin:50% 0">16%</div>
<div class="ra" style="right:242.40px;top:463.89px;transform:scaleX(0.9588);transform-origin:100% 0">456,656</div>
<div class="b" style="left:347.40px;width:120px;text-align:center;top:463.89px;transform:scaleX(0.9588);transform-origin:50% 0">73.2%</div>
<div class="ra" style="right:140.80px;top:463.89px;transform:scaleX(0.9588);transform-origin:100% 0">401,475</div>
<div class="b" style="left:448.40px;width:120px;text-align:center;top:463.89px;transform:scaleX(0.9588);transform-origin:50% 0">64.3%</div>
<div class="b" style="left:535.00px;width:120px;text-align:center;top:463.89px;transform:scaleX(0.9588);transform-origin:50% 0">89%</div>
<div style="left:5.00px;top:476.00px;letter-spacing:-0.360px;transform:scaleX(0.9588);transform-origin:0 0">Indiana</div>
<div class="ra" style="right:488.80px;top:476.00px;transform:scaleX(0.9588);transform-origin:100% 0">6,732,219</div>
<div class="ra" style="right:438.40px;top:476.00px;transform:scaleX(0.9588);transform-origin:100% 0">750,551</div>
<div class="ra" style="right:379.80px;top:476.00px;transform:scaleX(0.9588);transform-origin:100% 0">445,946</div>
<div class="b" style="left:219.40px;width:120px;text-align:center;top:476.00px;transform:scaleX(0.9588);transform-origin:50% 0">45%</div>
<div class="ra" style="right:242.40px;top:476.00px;transform:scaleX(0.9588);transform-origin:100% 0">2,954,580</div>
<div class="b" style="left:347.40px;width:120px;text-align:center;top:476.00px;transform:scaleX(0.9588);transform-origin:50% 0">43.9%</div>
<div class="ra" style="right:140.80px;top:476.00px;transform:scaleX(0.9588);transform-origin:100% 0">2,628,986</div>
<div class="b" style="left:448.40px;width:120px;text-align:center;top:476.00px;transform:scaleX(0.9588);transform-origin:50% 0">39.1%</div>
<div class="b" style="left:535.00px;width:120px;text-align:center;top:476.00px;transform:scaleX(0.9588);transform-origin:50% 0">88%</div>
<div style="left:5.00px;top:488.12px;letter-spacing:-0.307px;transform:scaleX(0.9588);transform-origin:0 0">District of Columbia</div>
<div class="ra" style="right:488.80px;top:488.12px;transform:scaleX(0.9588);transform-origin:100% 0">705,749</div>
<div class="ra" style="right:438.40px;top:488.12px;transform:scaleX(0.9588);transform-origin:100% 0">49,248</div>
<div class="ra" style="right:379.80px;top:488.12px;transform:scaleX(0.9588);transform-origin:100% 0">279,125</div>
<div class="b" style="left:219.40px;width:120px;text-align:center;top:488.12px;transform:scaleX(0.9588);transform-origin:50% 0">28%</div>
<div class="ra" style="right:242.40px;top:488.12px;transform:scaleX(0.9588);transform-origin:100% 0">425,069</div>
<div class="b" style="left:347.40px;width:120px;text-align:center;top:488.12px;transform:scaleX(0.9588);transform-origin:50% 0">60.2%</div>
<div class="ra" style="right:140.80px;top:488.12px;transform:scaleX(0.9588);transform-origin:100% 0">357,817</div>
<div class="b" style="left:448.40px;width:120px;text-align:center;top:488.12px;transform:scaleX(0.9588);transform-origin:50% 0">50.7%</div>
<div class="b" style="left:535.00px;width:120px;text-align:center;top:488.12px;transform:scaleX(0.9588);transform-origin:50% 0">88%</div>
<div style="left:5.00px;top:500.23px;letter-spacing:-0.192px;transform:scaleX(0.9588);transform-origin:0 0">Michigan</div>
<div class="ra" style="right:488.80px;top:500.23px;transform:scaleX(0.9588);transform-origin:100% 0">9,986,857</div>
<div class="ra" style="right:438.40px;top:500.23px;transform:scaleX(0.9588);transform-origin:100% 0">893,491</div>
<div class="ra" style="right:379.80px;top:500.23px;transform:scaleX(0.9588);transform-origin:100% 0">357,867</div>
<div class="b" style="left:219.40px;width:120px;text-align:center;top:500.23px;transform:scaleX(0.9588);transform-origin:50% 0">36%</div>
<div class="ra" style="right:242.40px;top:500.23px;transform:scaleX(0.9588);transform-origin:100% 0">5,081,095</div>
<div class="b" style="left:347.40px;width:120px;text-align:center;top:500.23px;transform:scaleX(0.9588);transform-origin:50% 0">50.9%</div>
<div class="ra" style="right:140.80px;top:500.23px;transform:scaleX(0.9588);transform-origin:100% 0">4,602,901</div>
<div class="b" style="left:448.40px;width:120px;text-align:center;top:500.23px;transform:scaleX(0.9588);transform-origin:50% 0">46.1%</div>
<div class="b" style="left:535.00px;width:120px;text-align:center;top:500.23px;transform:scaleX(0.9588);transform-origin:50% 0">87%</div>
<div style="left:5.00px;top:512.34px;letter-spacing:-0.140px;transform:scaleX(0.9588);transform-origin:0 0">Maine</div>
<div class="ra" style="right:488.80px;top:512.34px;transform:scaleX(0.9588);transform-origin:100% 0">1,344,212</div>
<div class="ra" style="right:438.40px;top:512.34px;transform:scaleX(0.9588);transform-origin:100% 0">68,844</div>
<div class="ra" style="right:379.80px;top:512.34px;transform:scaleX(0.9588);transform-origin:100% 0">204,861</div>
<div class="b" style="left:219.40px;width:120px;text-align:center;top:512.34px;transform:scaleX(0.9588);transform-origin:50% 0">20%</div>
<div class="ra" style="right:242.40px;top:512.34px;transform:scaleX(0.9588);transform-origin:100% 0">883,075</div>
<div class="b" style="left:347.40px;width:120px;text-align:center;top:512.34px;transform:scaleX(0.9588);transform-origin:50% 0">65.7%</div>
<div class="ra" style="right:140.80px;top:512.34px;transform:scaleX(0.9588);transform-origin:100% 0">804,785</div>
<div class="b" style="left:448.40px;width:120px;text-align:center;top:512.34px;transform:scaleX(0.9588);transform-origin:50% 0">59.9%</div>
<div class="b" style="left:535.00px;width:120px;text-align:center;top:512.34px;transform:scaleX(0.9588);transform-origin:50% 0">86%</div>
<div style="left:5.00px;top:524.45px;letter-spacing:-0.431px;transform:scaleX(0.9588);transform-origin:0 0">Ohio</div>
<div class="ra" style="right:488.80px;top:524.45px;transform:scaleX(0.9588);transform-origin:100% 0">11,689,100</div>
<div class="ra" style="right:438.40px;top:524.45px;transform:scaleX(0.9588);transform-origin:100% 0">1,096,025</div>
<div class="ra" style="right:379.80px;top:524.45px;transform:scaleX(0.9588);transform-origin:100% 0">375,059</div>
<div class="b" style="left:219.40px;width:120px;text-align:center;top:524.45px;transform:scaleX(0.9588);transform-origin:50% 0">38%</div>
<div class="ra" style="right:242.40px;top:524.45px;transform:scaleX(0.9588);transform-origin:100% 0">5,579,271</div>
<div class="b" style="left:347.40px;width:120px;text-align:center;top:524.45px;transform:scaleX(0.9588);transform-origin:50% 0">47.7%</div>
<div class="ra" style="right:140.80px;top:524.45px;transform:scaleX(0.9588);transform-origin:100% 0">5,104,871</div>
<div class="b" style="left:448.40px;width:120px;text-align:center;top:524.45px;transform:scaleX(0.9588);transform-origin:50% 0">43.7%</div>
<div class="b" style="left:535.00px;width:120px;text-align:center;top:524.45px;transform:scaleX(0.9588);transform-origin:50% 0">85%</div>
<div style="left:5.00px;top:536.57px;letter-spacing:-0.669px;transform:scaleX(0.9588);transform-origin:0 0">Alaska</div>
<div class="ra" style="right:488.80px;top:536.57px;transform:scaleX(0.9588);transform-origin:100% 0">731,545</div>
<div class="ra" style="right:438.40px;top:536.57px;transform:scaleX(0.9588);transform-origin:100% 0">68,112</div>
<div class="ra" style="right:379.80px;top:536.57px;transform:scaleX(0.9588);transform-origin:100% 0">372,428</div>
<div class="b" style="left:219.40px;width:120px;text-align:center;top:536.57px;transform:scaleX(0.9588);transform-origin:50% 0">37%</div>
<div class="ra" style="right:242.40px;top:536.57px;transform:scaleX(0.9588);transform-origin:100% 0">350,345</div>
<div class="b" style="left:347.40px;width:120px;text-align:center;top:536.57px;transform:scaleX(0.9588);transform-origin:50% 0">47.9%</div>
<div class="ra" style="right:140.80px;top:536.57px;transform:scaleX(0.9588);transform-origin:100% 0">305,948</div>
<div class="b" style="left:448.40px;width:120px;text-align:center;top:536.57px;transform:scaleX(0.9588);transform-origin:50% 0">41.8%</div>
<div class="b" style="left:535.00px;width:120px;text-align:center;top:536.57px;transform:scaleX(0.9588);transform-origin:50% 0">85%</div>
<div style="left:5.00px;top:548.68px;letter-spacing:-0.592px;transform:scaleX(0.9588);transform-origin:0 0">Alabama</div>
<div class="ra" style="right:488.80px;top:548.68px;transform:scaleX(0.9588);transform-origin:100% 0">4,903,185</div>
<div class="ra" style="right:438.40px;top:548.68px;transform:scaleX(0.9588);transform-origin:100% 0">539,851</div>
<div class="ra" style="right:379.80px;top:548.68px;transform:scaleX(0.9588);transform-origin:100% 0">440,408</div>
<div class="b" style="left:219.40px;width:120px;text-align:center;top:548.68px;transform:scaleX(0.9588);transform-origin:50% 0">44%</div>
<div class="ra" style="right:242.40px;top:548.68px;transform:scaleX(0.9588);transform-origin:100% 0">1,915,122</div>
<div class="b" style="left:347.40px;width:120px;text-align:center;top:548.68px;transform:scaleX(0.9588);transform-origin:50% 0">39.1%</div>
<div class="ra" style="right:140.80px;top:548.68px;transform:scaleX(0.9588);transform-origin:100% 0">1,563,573</div>
<div class="b" style="left:448.40px;width:120px;text-align:center;top:548.68px;transform:scaleX(0.9588);transform-origin:50% 0">31.9%</div>
<div class="b" style="left:535.00px;width:120px;text-align:center;top:548.68px;transform:scaleX(0.9588);transform-origin:50% 0">83%</div>
<div style="left:5.00px;top:560.79px;letter-spacing:-0.299px;transform:scaleX(0.9588);transform-origin:0 0">North Carolina</div>
<div class="ra" style="right:488.80px;top:560.79px;transform:scaleX(0.9588);transform-origin:100% 0">10,488,084</div>
<div class="ra" style="right:438.40px;top:560.79px;transform:scaleX(0.9588);transform-origin:100% 0">997,874</div>
<div class="ra" style="right:379.80px;top:560.79px;transform:scaleX(0.9588);transform-origin:100% 0">380,574</div>
<div class="b" style="left:219.40px;width:120px;text-align:center;top:560.79px;transform:scaleX(0.9588);transform-origin:50% 0">38%</div>
<div class="ra" style="right:242.40px;top:560.79px;transform:scaleX(0.9588);transform-origin:100% 0">4,688,755</div>
<div class="b" style="left:347.40px;width:120px;text-align:center;top:560.79px;transform:scaleX(0.9588);transform-origin:50% 0">44.7%</div>
<div class="ra" style="right:140.80px;top:560.79px;transform:scaleX(0.9588);transform-origin:100% 0">4,053,490</div>
<div class="b" style="left:448.40px;width:120px;text-align:center;top:560.79px;transform:scaleX(0.9588);transform-origin:50% 0">38.6%</div>
<div class="b" style="left:535.00px;width:120px;text-align:center;top:560.79px;transform:scaleX(0.9588);transform-origin:50% 0">83%</div>
<div style="left:5.00px;top:572.91px;letter-spacing:-0.083px;transform:scaleX(0.9588);transform-origin:0 0">Idaho</div>
<div class="ra" style="right:488.80px;top:572.91px;transform:scaleX(0.9588);transform-origin:100% 0">1,787,065</div>
<div class="ra" style="right:438.40px;top:572.91px;transform:scaleX(0.9588);transform-origin:100% 0">194,082</div>
<div class="ra" style="right:379.80px;top:572.91px;transform:scaleX(0.9588);transform-origin:100% 0">434,415</div>
<div class="b" style="left:219.40px;width:120px;text-align:center;top:572.91px;transform:scaleX(0.9588);transform-origin:50% 0">43%</div>
<div class="ra" style="right:242.40px;top:572.91px;transform:scaleX(0.9588);transform-origin:100% 0">698,828</div>
<div class="b" style="left:347.40px;width:120px;text-align:center;top:572.91px;transform:scaleX(0.9588);transform-origin:50% 0">39.1%</div>
<div class="ra" style="right:140.80px;top:572.91px;transform:scaleX(0.9588);transform-origin:100% 0">630,500</div>
<div class="b" style="left:448.40px;width:120px;text-align:center;top:572.91px;transform:scaleX(0.9588);transform-origin:50% 0">35.3%</div>
<div class="b" style="left:535.00px;width:120px;text-align:center;top:572.91px;transform:scaleX(0.9588);transform-origin:50% 0">83%</div>
<div style="left:5.00px;top:585.02px;letter-spacing:-0.197px;transform:scaleX(0.9588);transform-origin:0 0">Washington</div>
<div class="ra" style="right:488.80px;top:585.02px;transform:scaleX(0.9588);transform-origin:100% 0">7,614,893</div>
<div class="ra" style="right:438.40px;top:585.02px;transform:scaleX(0.9588);transform-origin:100% 0">410,906</div>
<div class="ra" style="right:379.80px;top:585.02px;transform:scaleX(0.9588);transform-origin:100% 0">215,843</div>
<div class="b" style="left:219.40px;width:120px;text-align:center;top:585.02px;transform:scaleX(0.9588);transform-origin:50% 0">22%</div>
<div class="ra" style="right:242.40px;top:585.02px;transform:scaleX(0.9588);transform-origin:100% 0">4,581,708</div>
<div class="b" style="left:347.40px;width:120px;text-align:center;top:585.02px;transform:scaleX(0.9588);transform-origin:50% 0">60.2%</div>
<div class="ra" style="right:140.80px;top:585.02px;transform:scaleX(0.9588);transform-origin:100% 0">4,030,435</div>
<div class="b" style="left:448.40px;width:120px;text-align:center;top:585.02px;transform:scaleX(0.9588);transform-origin:50% 0">52.9%</div>
<div class="b" style="left:535.00px;width:120px;text-align:center;top:585.02px;transform:scaleX(0.9588);transform-origin:50% 0">82%</div>
<div style="left:5.00px;top:597.13px;letter-spacing:-0.182px;transform:scaleX(0.9588);transform-origin:0 0">Wyoming</div>
<div class="ra" style="right:488.80px;top:597.13px;transform:scaleX(0.9588);transform-origin:100% 0">578,759</div>
<div class="ra" style="right:438.40px;top:597.13px;transform:scaleX(0.9588);transform-origin:100% 0">61,630</div>
<div class="ra" style="right:379.80px;top:597.13px;transform:scaleX(0.9588);transform-origin:100% 0">425,946</div>
<div class="b" style="left:219.40px;width:120px;text-align:center;top:597.13px;transform:scaleX(0.9588);transform-origin:50% 0">43%</div>
<div class="ra" style="right:242.40px;top:597.13px;transform:scaleX(0.9588);transform-origin:100% 0">223,322</div>
<div class="b" style="left:347.40px;width:120px;text-align:center;top:597.13px;transform:scaleX(0.9588);transform-origin:50% 0">38.6%</div>
<div class="ra" style="right:140.80px;top:597.13px;transform:scaleX(0.9588);transform-origin:100% 0">194,322</div>
<div class="b" style="left:448.40px;width:120px;text-align:center;top:597.13px;transform:scaleX(0.9588);transform-origin:50% 0">33.6%</div>
<div class="b" style="left:535.00px;width:120px;text-align:center;top:597.13px;transform:scaleX(0.9588);transform-origin:50% 0">81%</div>
<div style="left:5.00px;top:609.25px;letter-spacing:-0.217px;transform:scaleX(0.9588);transform-origin:0 0">Texas</div>
<div class="ra" style="right:488.80px;top:609.25px;transform:scaleX(0.9588);transform-origin:100% 0">28,995,881</div>
<div class="ra" style="right:438.40px;top:609.25px;transform:scaleX(0.9588);transform-origin:100% 0">2,385,636</div>
<div class="ra" style="right:379.80px;top:609.25px;transform:scaleX(0.9588);transform-origin:100% 0">329,100</div>
<div class="b" style="left:219.40px;width:120px;text-align:center;top:609.25px;transform:scaleX(0.9588);transform-origin:50% 0">33%</div>
<div class="ra" style="right:242.40px;top:609.25px;transform:scaleX(0.9588);transform-origin:100% 0">13,712,080</div>
<div class="b" style="left:347.40px;width:120px;text-align:center;top:609.25px;transform:scaleX(0.9588);transform-origin:50% 0">47.3%</div>
<div class="ra" style="right:140.80px;top:609.25px;transform:scaleX(0.9588);transform-origin:100% 0">11,530,134</div>
<div class="b" style="left:448.40px;width:120px;text-align:center;top:609.25px;transform:scaleX(0.9588);transform-origin:50% 0">39.8%</div>
<div class="b" style="left:535.00px;width:120px;text-align:center;top:609.25px;transform:scaleX(0.9588);transform-origin:50% 0">80%</div>
<div style="left:5.00px;top:621.36px;letter-spacing:-0.420px;transform:scaleX(0.9588);transform-origin:0 0">West Virginia</div>
<div class="ra" style="right:488.80px;top:621.36px;transform:scaleX(0.9588);transform-origin:100% 0">1,792,147</div>
<div class="ra" style="right:438.40px;top:621.36px;transform:scaleX(0.9588);transform-origin:100% 0">163,382</div>
<div class="ra" style="right:379.80px;top:621.36px;transform:scaleX(0.9588);transform-origin:100% 0">364,662</div>
<div class="b" style="left:219.40px;width:120px;text-align:center;top:621.36px;transform:scaleX(0.9588);transform-origin:50% 0">36%</div>
<div class="ra" style="right:242.40px;top:621.36px;transform:scaleX(0.9588);transform-origin:100% 0">766,983</div>
<div class="b" style="left:347.40px;width:120px;text-align:center;top:621.36px;transform:scaleX(0.9588);transform-origin:50% 0">42.8%</div>
<div class="ra" style="right:140.80px;top:621.36px;transform:scaleX(0.9588);transform-origin:100% 0">654,167</div>
<div class="b" style="left:448.40px;width:120px;text-align:center;top:621.36px;transform:scaleX(0.9588);transform-origin:50% 0">36.5%</div>
<div class="b" style="left:535.00px;width:120px;text-align:center;top:621.36px;transform:scaleX(0.9588);transform-origin:50% 0">79%</div>
<div style="left:5.00px;top:633.47px;letter-spacing:-0.390px;transform:scaleX(0.9588);transform-origin:0 0">Hawaii</div>
<div class="ra" style="right:488.80px;top:633.47px;transform:scaleX(0.9588);transform-origin:100% 0">1,415,872</div>
<div class="ra" style="right:438.40px;top:633.47px;transform:scaleX(0.9588);transform-origin:100% 0">35,744</div>
<div class="ra" style="right:379.80px;top:633.47px;transform:scaleX(0.9588);transform-origin:100% 0">100,981</div>
<div class="b" style="left:219.40px;width:120px;text-align:center;top:633.47px;transform:scaleX(0.9588);transform-origin:50% 0">10%</div>
<div class="ra" style="right:242.40px;top:633.47px;transform:scaleX(0.9588);transform-origin:100% 0">977,916</div>
<div class="b" style="left:347.40px;width:120px;text-align:center;top:633.47px;transform:scaleX(0.9588);transform-origin:50% 0">69.1%</div>
<div class="ra" style="right:140.80px;top:633.47px;transform:scaleX(0.9588);transform-origin:100% 0">720,874</div>
<div class="b" style="left:448.40px;width:120px;text-align:center;top:633.47px;transform:scaleX(0.9588);transform-origin:50% 0">50.9%</div>
<div class="b" style="left:535.00px;width:120px;text-align:center;top:633.47px;transform:scaleX(0.9588);transform-origin:50% 0">79%</div>
<div style="left:5.00px;top:645.59px;letter-spacing:-0.013px;transform:scaleX(0.9588);transform-origin:0 0">Mississippi</div>
<div class="ra" style="right:488.80px;top:645.59px;transform:scaleX(0.9588);transform-origin:100% 0">2,976,149</div>
<div class="ra" style="right:438.40px;top:645.59px;transform:scaleX(0.9588);transform-origin:100% 0">320,107</div>
<div class="ra" style="right:379.80px;top:645.59px;transform:scaleX(0.9588);transform-origin:100% 0">430,230</div>
<div class="b" style="left:219.40px;width:120px;text-align:center;top:645.59px;transform:scaleX(0.9588);transform-origin:50% 0">43%</div>
<div class="ra" style="right:242.40px;top:645.59px;transform:scaleX(0.9588);transform-origin:100% 0">1,054,852</div>
<div class="b" style="left:347.40px;width:120px;text-align:center;top:645.59px;transform:scaleX(0.9588);transform-origin:50% 0">35.4%</div>
<div class="ra" style="right:140.80px;top:645.59px;transform:scaleX(0.9588);transform-origin:100% 0">859,124</div>
<div class="b" style="left:448.40px;width:120px;text-align:center;top:645.59px;transform:scaleX(0.9588);transform-origin:50% 0">28.9%</div>
<div class="b" style="left:535.00px;width:120px;text-align:center;top:645.59px;transform:scaleX(0.9588);transform-origin:50% 0">78%</div>
<div style="left:5.00px;top:657.70px;letter-spacing:-0.212px;transform:scaleX(0.9588);transform-origin:0 0">Louisiana</div>
<div class="ra" style="right:488.80px;top:657.70px;transform:scaleX(0.9588);transform-origin:100% 0">4,648,794</div>
<div class="ra" style="right:438.40px;top:657.70px;transform:scaleX(0.9588);transform-origin:100% 0">472,760</div>
<div class="ra" style="right:379.80px;top:657.70px;transform:scaleX(0.9588);transform-origin:100% 0">406,781</div>
<div class="b" style="left:219.40px;width:120px;text-align:center;top:657.70px;transform:scaleX(0.9588);transform-origin:50% 0">41%</div>
<div class="ra" style="right:242.40px;top:657.70px;transform:scaleX(0.9588);transform-origin:100% 0">1,743,718</div>
<div class="b" style="left:347.40px;width:120px;text-align:center;top:657.70px;transform:scaleX(0.9588);transform-origin:50% 0">37.5%</div>
<div class="ra" style="right:140.80px;top:657.70px;transform:scaleX(0.9588);transform-origin:100% 0">1,571,377</div>
<div class="b" style="left:448.40px;width:120px;text-align:center;top:657.70px;transform:scaleX(0.9588);transform-origin:50% 0">33.8%</div>
<div class="b" style="left:535.00px;width:120px;text-align:center;top:657.70px;transform:scaleX(0.9588);transform-origin:50% 0">78%</div>
<div style="left:5.00px;top:669.81px;letter-spacing:0.091px;transform:scaleX(0.9588);transform-origin:0 0">Missouri</div>
<div class="ra" style="right:488.80px;top:669.81px;transform:scaleX(0.9588);transform-origin:100% 0">6,137,428</div>
<div class="ra" style="right:438.40px;top:669.81px;transform:scaleX(0.9588);transform-origin:100% 0">520,677</div>
<div class="ra" style="right:379.80px;top:669.81px;transform:scaleX(0.9588);transform-origin:100% 0">339,345</div>
<div class="b" style="left:219.40px;width:120px;text-align:center;top:669.81px;transform:scaleX(0.9588);transform-origin:50% 0">34%</div>
<div class="ra" style="right:242.40px;top:669.81px;transform:scaleX(0.9588);transform-origin:100% 0">2,709,824</div>
<div class="b" style="left:347.40px;width:120px;text-align:center;top:669.81px;transform:scaleX(0.9588);transform-origin:50% 0">44.2%</div>
<div class="ra" style="right:140.80px;top:669.81px;transform:scaleX(0.9588);transform-origin:100% 0">2,335,942</div>
<div class="b" style="left:448.40px;width:120px;text-align:center;top:669.81px;transform:scaleX(0.9588);transform-origin:50% 0">38.1%</div>
<div class="b" style="left:535.00px;width:120px;text-align:center;top:669.81px;transform:scaleX(0.9588);transform-origin:50% 0">78%</div>
<div style="left:5.00px;top:681.92px;letter-spacing:-0.517px;transform:scaleX(0.9588);transform-origin:0 0">Oregon</div>
<div class="ra" style="right:488.80px;top:681.92px;transform:scaleX(0.9588);transform-origin:100% 0">4,217,737</div>
<div class="ra" style="right:438.40px;top:681.92px;transform:scaleX(0.9588);transform-origin:100% 0">206,850</div>
<div class="ra" style="right:379.80px;top:681.92px;transform:scaleX(0.9588);transform-origin:100% 0">196,172</div>
<div class="b" style="left:219.40px;width:120px;text-align:center;top:681.92px;transform:scaleX(0.9588);transform-origin:50% 0">20%</div>
<div class="ra" style="right:242.40px;top:681.92px;transform:scaleX(0.9588);transform-origin:100% 0">2,436,329</div>
<div class="b" style="left:347.40px;width:120px;text-align:center;top:681.92px;transform:scaleX(0.9588);transform-origin:50% 0">57.8%</div>
<div class="ra" style="right:140.80px;top:681.92px;transform:scaleX(0.9588);transform-origin:100% 0">2,176,923</div>
<div class="b" style="left:448.40px;width:120px;text-align:center;top:681.92px;transform:scaleX(0.9588);transform-origin:50% 0">51.6%</div>
<div class="b" style="left:535.00px;width:120px;text-align:center;top:681.92px;transform:scaleX(0.9588);transform-origin:50% 0">77%</div>
<div style="left:5.00px;top:694.04px;letter-spacing:-0.364px;transform:scaleX(0.9588);transform-origin:0 0">Arkansas</div>
<div class="ra" style="right:488.80px;top:694.04px;transform:scaleX(0.9588);transform-origin:100% 0">3,017,804</div>
<div class="ra" style="right:438.40px;top:694.04px;transform:scaleX(0.9588);transform-origin:100% 0">269,067</div>
<div class="ra" style="right:379.80px;top:694.04px;transform:scaleX(0.9588);transform-origin:100% 0">356,639</div>
<div class="b" style="left:219.40px;width:120px;text-align:center;top:694.04px;transform:scaleX(0.9588);transform-origin:50% 0">36%</div>
<div class="ra" style="right:242.40px;top:694.04px;transform:scaleX(0.9588);transform-origin:100% 0">1,243,445</div>
<div class="b" style="left:347.40px;width:120px;text-align:center;top:694.04px;transform:scaleX(0.9588);transform-origin:50% 0">41.2%</div>
<div class="ra" style="right:140.80px;top:694.04px;transform:scaleX(0.9588);transform-origin:100% 0">1,007,385</div>
<div class="b" style="left:448.40px;width:120px;text-align:center;top:694.04px;transform:scaleX(0.9588);transform-origin:50% 0">33.4%</div>
<div class="b" style="left:535.00px;width:120px;text-align:center;top:694.04px;transform:scaleX(0.9588);transform-origin:50% 0">77%</div>
<div style="left:5.00px;top:706.15px;letter-spacing:-0.602px;transform:scaleX(0.9588);transform-origin:0 0">Georgia</div>
<div class="ra" style="right:488.80px;top:706.15px;transform:scaleX(0.9588);transform-origin:100% 0">10,617,423</div>
<div class="ra" style="right:438.40px;top:706.15px;transform:scaleX(0.9588);transform-origin:100% 0">901,198</div>
<div class="ra" style="right:379.80px;top:706.15px;transform:scaleX(0.9588);transform-origin:100% 0">339,517</div>
<div class="b" style="left:219.40px;width:120px;text-align:center;top:706.15px;transform:scaleX(0.9588);transform-origin:50% 0">34%</div>
<div class="ra" style="right:242.40px;top:706.15px;transform:scaleX(0.9588);transform-origin:100% 0">4,456,062</div>
<div class="b" style="left:347.40px;width:120px;text-align:center;top:706.15px;transform:scaleX(0.9588);transform-origin:50% 0">42.0%</div>
<div class="ra" style="right:140.80px;top:706.15px;transform:scaleX(0.9588);transform-origin:100% 0">3,696,341</div>
<div class="b" style="left:448.40px;width:120px;text-align:center;top:706.15px;transform:scaleX(0.9588);transform-origin:50% 0">34.8%</div>
<div class="b" style="left:535.00px;width:120px;text-align:center;top:706.15px;transform:scaleX(0.9588);transform-origin:50% 0">76%</div>
<div style="left:5.42px;top:746.00px;letter-spacing:-0.227px;font-size:10.2px;transform:scaleX(0.9100);transform-origin:0 0">Source: Fundstrat, CDC, State Health Departments</div>
</div>
</body></html>
